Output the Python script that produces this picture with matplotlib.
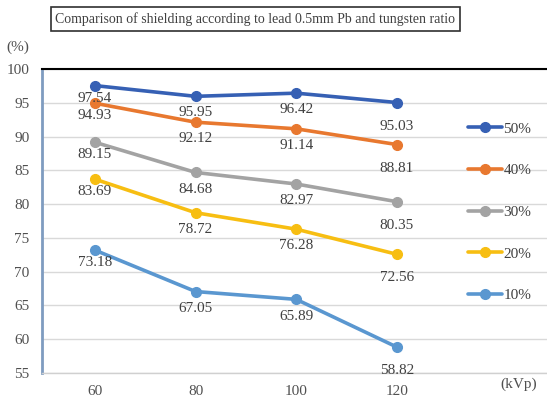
import matplotlib
matplotlib.use('Agg')
import matplotlib.pyplot as plt

plt.rcParams['font.family'] = ['Liberation Serif', 'DejaVu Serif']

# shielding rate (%) by tube voltage for each tungsten ratio
kvp = [60, 80, 100, 120]
w50 = [97.54, 95.95, 96.42, 95.03]
w40 = [94.93, 92.12, 91.14, 88.81]
w30 = [89.15, 84.68, 82.97, 80.35]
w20 = [83.69, 78.72, 76.28, 72.56]
w10 = [73.18, 67.05, 65.89, 58.82]

series = [
    ('50%', w50, '#3660B4'),
    ('40%', w40, '#E8782F'),
    ('30%', w30, '#A3A3A3'),
    ('20%', w20, '#F7BE12'),
    ('10%', w10, '#5A97D0'),
]

# how far below each point the value label sits (points)
label_drop = [9, 12, 12, 17]

fig = plt.figure(figsize=(5.47, 4.01), dpi=100)
ax = fig.add_axes([0.0768, 0.070, 0.9232, 0.758])

for name, vals, col in series:
    ax.plot(kvp, vals, color=col, lw=2.6, marker='o', ms=7, label=name,
            solid_capstyle='round')
    for x, v, d in zip(kvp, vals, label_drop):
        ax.annotate(f'{v:.2f}', (x, v), xytext=(0, -d), textcoords='offset points',
                    ha='center', va='center', fontsize=11, color='#404040')

ax.set_xlim(49.5, 149.8)
ax.set_ylim(55, 100)
ax.set_xticks(kvp)
ax.set_yticks(range(55, 101, 5))
ax.tick_params(length=0, labelsize=11, labelcolor='#505050')
ax.tick_params(axis='y', pad=9)
ax.tick_params(axis='x', pad=9)
ax.grid(axis='y', color='#D9D9D9', lw=1)
ax.set_axisbelow(True)

ax.spines['right'].set_visible(False)
ax.spines['top'].set_color('black')
ax.spines['top'].set_linewidth(1.5)
ax.spines['left'].set_color('#7F9CC0')
ax.spines['left'].set_linewidth(2)
ax.spines['bottom'].set_color('#D0D0D0')
ax.spines['bottom'].set_linewidth(1)

ax.text(0.943, -0.038, '(kVp)', transform=ax.transAxes, ha='center', va='center',
        fontsize=11, color='#505050')
fig.text(0.033, 0.883, '(%)', ha='center', va='center', fontsize=11, color='#505050')

fig.text(0.467, 0.952, 'Comparison of shielding according to lead 0.5mm Pb and tungsten ratio',
         ha='center', va='center', fontsize=10, color='#404040',
         bbox=dict(boxstyle='square,pad=0.35', fc='white', ec='#303030', lw=1.2))

ax.legend(loc='upper left', bbox_to_anchor=(0.856, 0.696), bbox_transform=fig.transFigure,
          frameon=False, fontsize=11, handlelength=2.2, handletextpad=0.1,
          labelspacing=1.83, borderpad=0, borderaxespad=0, labelcolor='#404040')

fig.savefig('out.png', dpi=100)
